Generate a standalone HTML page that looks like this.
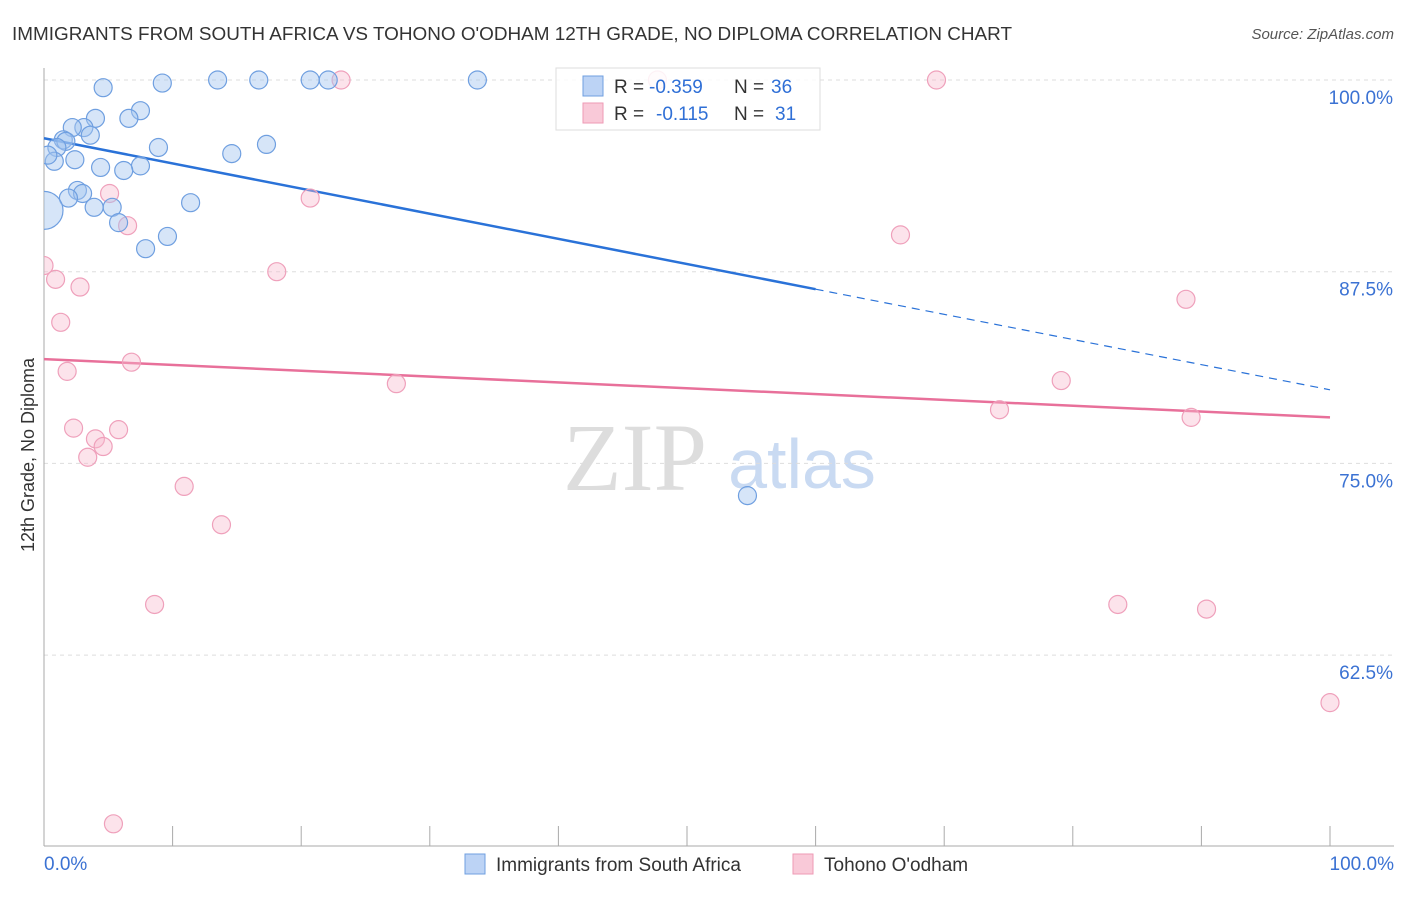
<!DOCTYPE html>
<html><head><meta charset="utf-8"><style>
body{margin:0;background:#fff;font-family:"Liberation Sans",sans-serif;}
</style></head><body>
<svg id="chart" width="1406" height="892" xmlns="http://www.w3.org/2000/svg" font-family="Liberation Sans, sans-serif">
<defs><clipPath id="plotclip"><rect x="44" y="60" width="1360" height="786"/></clipPath></defs>
<text x="12" y="40" font-size="18" fill="#333" textLength="1000" lengthAdjust="spacingAndGlyphs">IMMIGRANTS FROM SOUTH AFRICA VS TOHONO O'ODHAM 12TH GRADE, NO DIPLOMA CORRELATION CHART</text>
<text x="1394" y="39" font-size="15" fill="#555" text-anchor="end" font-style="italic">Source: ZipAtlas.com</text>
<text x="635" y="490" font-size="96" fill="#ddd" text-anchor="middle" style="font-family:'Liberation Serif',serif">ZIP</text>
<text x="802" y="488" font-size="70" fill="#c9daf2" text-anchor="middle">atlas</text>
<text transform="translate(34,455) rotate(-90)" font-size="18" fill="#333" text-anchor="middle">12th Grade, No Diploma</text>
<g id="grid"></g><g id="axes"></g><g id="lines"></g><g id="pts" clip-path="url(#plotclip)"></g>
<g>
<rect x="556" y="68" width="264" height="62" fill="#fff" fill-opacity="0.85" stroke="#ddd"/>
<rect x="583" y="76" width="20" height="20" fill="#bcd3f5" stroke="#6f9fe0"/>
<text x="614" y="93" font-size="19" fill="#333">R =</text>
<text x="649" y="93" font-size="19" fill="#2f6fd6">-0.359</text>
<text x="734" y="93" font-size="19" fill="#333">N =</text>
<text x="771" y="93" font-size="19" fill="#2f6fd6">36</text>
<rect x="583" y="103" width="20" height="20" fill="#f9c9d8" stroke="#ee9ab5"/>
<text x="614" y="120" font-size="19" fill="#333">R =</text>
<text x="656" y="120" font-size="19" fill="#2f6fd6">-0.115</text>
<text x="734" y="120" font-size="19" fill="#333">N =</text>
<text x="775" y="120" font-size="19" fill="#2f6fd6">31</text>
</g>
<g>
<rect x="465" y="854" width="20" height="20" fill="#bcd3f5" stroke="#6f9fe0"/>
<text x="496" y="871" font-size="19" fill="#333">Immigrants from South Africa</text>
<rect x="793" y="854" width="20" height="20" fill="#f9c9d8" stroke="#ee9ab5"/>
<text x="824" y="871" font-size="19" fill="#333">Tohono O'odham</text>
</g>
</svg>
<script>
const blueX=[4.6,9.2,13.5,16.7,20.7,22.1,33.7,7.5,6.6,4.0,3.1,2.2,3.6,1.5,1.7,1.0,8.9,17.3,14.6,0.8,2.4,4.4,7.5,6.2,2.6,3.0,1.9,3.9,5.3,11.4,5.8,9.6,7.9,0,54.7,0.3];
const blueY=[99.5,99.8,100,100,100,100,100,98.0,97.5,97.5,96.9,96.9,96.4,96.1,96.0,95.6,95.6,95.8,95.2,94.7,94.8,94.3,94.4,94.1,92.8,92.6,92.3,91.7,91.7,92.0,90.7,89.8,89.0,91.5,72.9,95.1];
const blueR=[10,10,10,10,10,10,10,10,10,10,10,10,10,10,10,10,10,10,10,10,10,10,10,10,10,10,10,10,10,10,10,10,10,20,10,10];
const pinkX=[23.1,47.7,69.4,5.1,20.7,6.5,66.6,0,0.9,2.8,18.1,88.8,1.3,6.8,1.8,27.4,79.1,74.3,89.2,2.3,5.8,4.0,4.6,3.4,10.9,13.8,8.6,83.5,90.4,100,5.4];
const pinkY=[100,100,100,92.6,92.3,90.5,89.9,87.9,87.0,86.5,87.5,85.7,84.2,81.6,81.0,80.2,80.4,78.5,78.0,77.3,77.2,76.6,76.1,75.4,73.5,71.0,65.8,65.8,65.5,59.4,51.5];
const blueTrend=[96.2,79.8]; const blueSolidEnd=60;
const pinkTrend=[81.8,78.0];
const yTicks=[100,87.5,75,62.5];
const yTickLabels=["100.0%","87.5%","75.0%","62.5%"];
const xTicks=[0,10,20,30,40,50,60,70,80,90,100];
const NS="http://www.w3.org/2000/svg";
const X=v=>44+v*12.86, Y=v=>80+(100-v)*15.336;
function mk(p,t,a){const e=document.createElementNS(NS,t);for(const k in a)e.setAttribute(k,a[k]);document.getElementById(p).appendChild(e);return e;}
yTicks.forEach((t,i)=>{
 const g=mk('grid','line',{x1:44,x2:1394,y1:Y(t),y2:Y(t),stroke:'#ddd','stroke-dasharray':'4,4'});
 
 
 const l=mk('grid','text',{x:1393,y:Y(t)+24,'font-size':19,fill:'#3b72d3','text-anchor':'end'});l.textContent=yTickLabels[i];
 
 
});
const ax=mk('axes','line',{x1:44,x2:44,y1:68,y2:846,stroke:'#aaa'});


const bx=mk('axes','line',{x1:44,x2:1394,y1:846,y2:846,stroke:'#aaa'});


xTicks.forEach(t=>{const e=mk('axes','line',{x1:X(t),x2:X(t),y1:826,y2:846,stroke:'#aaa'});
 
 });
[[0,'0.0%','start',44],[100,'100.0%','end',1394]].forEach(d=>{const e=mk('axes','text',{x:d[3],y:870,'font-size':19,fill:'#3b72d3','text-anchor':d[2]});e.textContent=d[1];
 
 });
const bAt=x=>blueTrend[0]+(blueTrend[1]-blueTrend[0])*x/100;
let e=mk('lines','line',{x1:X(0),y1:Y(bAt(0)),x2:X(blueSolidEnd),y2:Y(bAt(blueSolidEnd)),stroke:'#2a72d8','stroke-width':2.5});


e=mk('lines','line',{x1:X(blueSolidEnd),y1:Y(bAt(blueSolidEnd)),x2:X(100),y2:Y(bAt(100)),stroke:'#2a72d8','stroke-width':1.2,'stroke-dasharray':'8,6'});


e=mk('lines','line',{x1:X(0),y1:Y(pinkTrend[0]),x2:X(100),y2:Y(pinkTrend[1]),stroke:'#e8709a','stroke-width':2.5});


pinkX.forEach((x,i)=>{const c=mk('pts','circle',{cx:X(x),cy:Y(pinkY[i]),r:9,fill:'rgba(248,185,205,0.4)',stroke:'#efa0bb','stroke-width':1.2});
 
 });
blueX.forEach((x,i)=>{const c=mk('pts','circle',{cx:X(x),cy:Y(blueY[i]),r:blueR[i]-1,fill:'rgba(165,198,240,0.45)',stroke:'#6f9fe0','stroke-width':1.2});
 
 });
</script>
</body></html>
